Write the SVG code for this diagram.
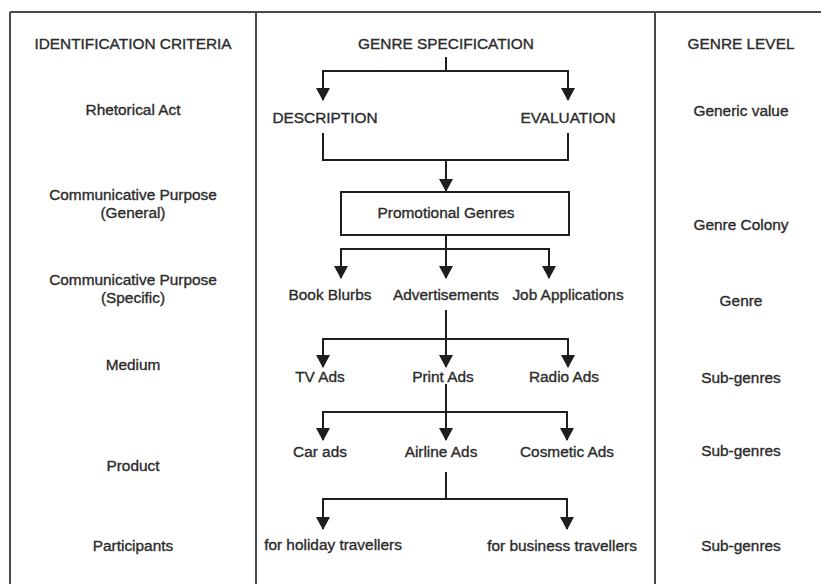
<svg xmlns="http://www.w3.org/2000/svg" width="821" height="584" viewBox="0 0 821 584">
  <defs>
    <marker id="arrow" markerUnits="userSpaceOnUse" markerWidth="14" markerHeight="14" refX="12" refY="7" orient="auto">
      <path d="M0,0 L13,7 L0,14 z" fill="#1e1e1e"/>
    </marker>
    <style>
      text { font-family: "Liberation Sans", Arial, sans-serif; font-size: 15.4px; fill: #2b2b2b; stroke: #2b2b2b; stroke-width: 0.35px; text-anchor: middle; }
      .frame { stroke: #4a4a4a; stroke-width: 2; fill: none; }
      .link { stroke: #1e1e1e; stroke-width: 2; fill: none; }
      .arr { marker-end: url(#arrow); }
      .box { stroke: #1e1e1e; stroke-width: 2; fill: #ffffff; }
    </style>
  </defs>
  <rect width="821" height="584" fill="#ffffff"/>

  <!-- table frame: top rule and three column rules -->
  <g id="frame">
    <path class="frame" d="M10,12 H821 M10,12 V584 M256,12 V584 M655,12 V584"/>
  </g>

  <!-- left column: identification criteria -->
  <g id="criteria">
    <text x="133" y="49">IDENTIFICATION CRITERIA</text>
    <text x="133" y="115">Rhetorical Act</text>
    <text x="133" y="200">Communicative Purpose</text>
    <text x="133" y="218">(General)</text>
    <text x="133" y="285">Communicative Purpose</text>
    <text x="133" y="303">(Specific)</text>
    <text x="133" y="370">Medium</text>
    <text x="133" y="471">Product</text>
    <text x="133" y="551">Participants</text>
  </g>

  <!-- right column: genre level -->
  <g id="levels">
    <text x="741" y="49">GENRE LEVEL</text>
    <text x="741" y="116">Generic value</text>
    <text x="741" y="230">Genre Colony</text>
    <text x="741" y="306">Genre</text>
    <text x="741" y="383">Sub-genres</text>
    <text x="741" y="456">Sub-genres</text>
    <text x="741" y="551">Sub-genres</text>
  </g>

  <!-- connectors of the specification tree -->
  <g id="connectors">
    <path class="link arr" d="M446,57 V71 H323 V100"/>
    <path class="link arr" d="M446,71 H568 V100"/>
    <path class="link" d="M323,133 V160 H568 V133"/>
    <path class="link arr" d="M446,160 V191"/>
    <path class="link arr" d="M446,235 V249 H341 V278"/>
    <path class="link arr" d="M446,249 H549 V278"/>
    <path class="link arr" d="M446,249 V278"/>
    <path class="link arr" d="M446,310 V339 H323 V367"/>
    <path class="link arr" d="M446,339 H568 V367"/>
    <path class="link arr" d="M446,339 V367"/>
    <path class="link arr" d="M446,384 V412 H323 V440"/>
    <path class="link arr" d="M446,412 H567 V440"/>
    <path class="link arr" d="M446,412 V440"/>
    <path class="link arr" d="M446,472 V499 H323 V529"/>
    <path class="link arr" d="M446,499 H567 V529"/>
  </g>

  <g id="genre-specification"><text x="446" y="49">GENRE SPECIFICATION</text></g>
  <g id="description"><text x="325" y="123">DESCRIPTION</text></g>
  <g id="evaluation"><text x="568" y="123">EVALUATION</text></g>
  <g id="promotional-genres">
    <rect class="box" x="341" y="192" width="228" height="43"/>
    <text x="446" y="218">Promotional Genres</text>
  </g>
  <g id="book-blurbs"><text x="330" y="300">Book Blurbs</text></g>
  <g id="advertisements"><text x="446" y="300">Advertisements</text></g>
  <g id="job-applications"><text x="568" y="300">Job Applications</text></g>
  <g id="tv-ads"><text x="320" y="382">TV Ads</text></g>
  <g id="print-ads"><text x="443" y="382">Print Ads</text></g>
  <g id="radio-ads"><text x="564" y="382">Radio Ads</text></g>
  <g id="car-ads"><text x="320" y="457">Car ads</text></g>
  <g id="airline-ads"><text x="441" y="457">Airline Ads</text></g>
  <g id="cosmetic-ads"><text x="567" y="457">Cosmetic Ads</text></g>
  <g id="holiday-travellers"><text x="333" y="550">for holiday travellers</text></g>
  <g id="business-travellers"><text x="562" y="551">for business travellers</text></g>
</svg>
